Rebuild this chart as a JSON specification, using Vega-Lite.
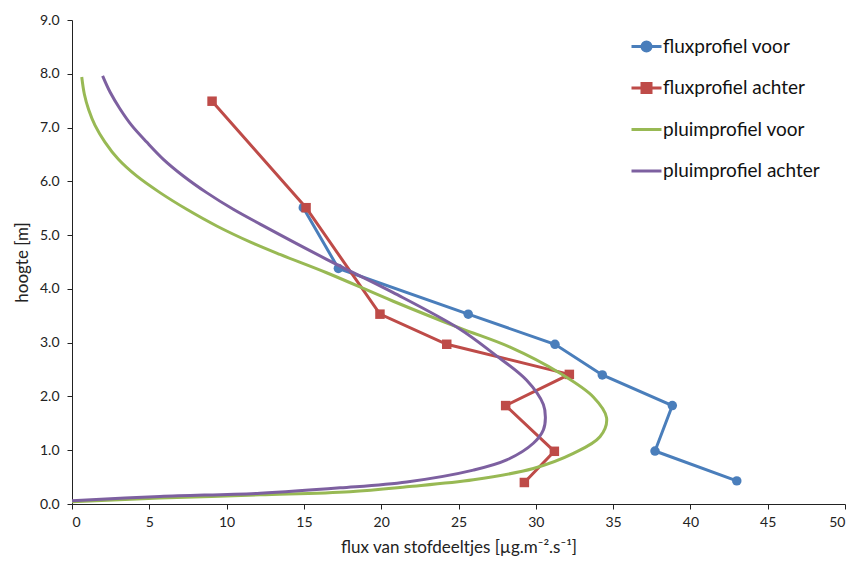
{
  "$schema": "https://vega.github.io/schema/vega-lite/v6.json",
  "width": 773,
  "height": 484,
  "autosize": {"type": "none"},
  "padding": {"left": 72, "top": 20, "right": 10, "bottom": 58},
  "background": "white",
  "config": {
    "view": {"stroke": null},
    "font": "Lato",
    "axis": {
      "grid": false,
      "domainColor": "#222",
      "tickColor": "#222",
      "tickSize": 5,
      "labelFont": "Lato",
      "labelFontSize": 14,
      "labelColor": "#222",
      "titleFont": "Lato",
      "titleFontSize": 17,
      "titleFontWeight": "normal",
      "titleColor": "#222"
    }
  },
  "data": {
    "values": [
      {"series": "fluxprofiel voor", "flux": 14.96, "height": 5.51},
      {"series": "fluxprofiel voor", "flux": 17.23, "height": 4.38},
      {"series": "fluxprofiel voor", "flux": 25.63, "height": 3.53},
      {"series": "fluxprofiel voor", "flux": 31.24, "height": 2.97},
      {"series": "fluxprofiel voor", "flux": 34.3, "height": 2.4},
      {"series": "fluxprofiel voor", "flux": 38.83, "height": 1.83},
      {"series": "fluxprofiel voor", "flux": 37.71, "height": 0.985},
      {"series": "fluxprofiel voor", "flux": 43.0, "height": 0.43},

      {"series": "fluxprofiel achter", "flux": 9.06, "height": 7.49},
      {"series": "fluxprofiel achter", "flux": 15.14, "height": 5.51},
      {"series": "fluxprofiel achter", "flux": 19.92, "height": 3.53},
      {"series": "fluxprofiel achter", "flux": 24.24, "height": 2.97},
      {"series": "fluxprofiel achter", "flux": 32.17, "height": 2.41},
      {"series": "fluxprofiel achter", "flux": 28.05, "height": 1.83},
      {"series": "fluxprofiel achter", "flux": 31.2, "height": 0.98},
      {"series": "fluxprofiel achter", "flux": 29.26, "height": 0.4},

      {"series": "pluimprofiel voor", "flux": 0.63, "height": 7.94},
      {"series": "pluimprofiel voor", "flux": 0.8, "height": 7.62},
      {"series": "pluimprofiel voor", "flux": 1.08, "height": 7.33},
      {"series": "pluimprofiel voor", "flux": 1.49, "height": 7.04},
      {"series": "pluimprofiel voor", "flux": 2.13, "height": 6.73},
      {"series": "pluimprofiel voor", "flux": 3.0, "height": 6.41},
      {"series": "pluimprofiel voor", "flux": 4.18, "height": 6.1},
      {"series": "pluimprofiel voor", "flux": 5.69, "height": 5.79},
      {"series": "pluimprofiel voor", "flux": 7.42, "height": 5.48},
      {"series": "pluimprofiel voor", "flux": 9.36, "height": 5.17},
      {"series": "pluimprofiel voor", "flux": 11.62, "height": 4.86},
      {"series": "pluimprofiel voor", "flux": 13.45, "height": 4.64},
      {"series": "pluimprofiel voor", "flux": 16.47, "height": 4.3},
      {"series": "pluimprofiel voor", "flux": 20.78, "height": 3.77},
      {"series": "pluimprofiel voor", "flux": 25.1, "height": 3.27},
      {"series": "pluimprofiel voor", "flux": 28.3, "height": 2.92},
      {"series": "pluimprofiel voor", "flux": 31.57, "height": 2.43},
      {"series": "pluimprofiel voor", "flux": 33.72, "height": 1.99},
      {"series": "pluimprofiel voor", "flux": 34.58, "height": 1.6},
      {"series": "pluimprofiel voor", "flux": 34.15, "height": 1.25},
      {"series": "pluimprofiel voor", "flux": 32.43, "height": 0.94},
      {"series": "pluimprofiel voor", "flux": 29.84, "height": 0.66},
      {"series": "pluimprofiel voor", "flux": 25.96, "height": 0.45},
      {"series": "pluimprofiel voor", "flux": 21.65, "height": 0.32},
      {"series": "pluimprofiel voor", "flux": 17.98, "height": 0.23},
      {"series": "pluimprofiel voor", "flux": 12.16, "height": 0.17},
      {"series": "pluimprofiel voor", "flux": 5.69, "height": 0.11},
      {"series": "pluimprofiel voor", "flux": 0.0, "height": 0.04},

      {"series": "pluimprofiel achter", "flux": 1.98, "height": 7.96},
      {"series": "pluimprofiel achter", "flux": 2.46, "height": 7.66},
      {"series": "pluimprofiel achter", "flux": 3.1, "height": 7.35},
      {"series": "pluimprofiel achter", "flux": 3.86, "height": 7.04},
      {"series": "pluimprofiel achter", "flux": 4.83, "height": 6.73},
      {"series": "pluimprofiel achter", "flux": 5.91, "height": 6.41},
      {"series": "pluimprofiel achter", "flux": 7.2, "height": 6.1},
      {"series": "pluimprofiel achter", "flux": 8.71, "height": 5.79},
      {"series": "pluimprofiel achter", "flux": 10.43, "height": 5.48},
      {"series": "pluimprofiel achter", "flux": 12.2, "height": 5.2},
      {"series": "pluimprofiel achter", "flux": 16.47, "height": 4.55},
      {"series": "pluimprofiel achter", "flux": 20.78, "height": 3.93},
      {"series": "pluimprofiel achter", "flux": 25.1, "height": 3.25},
      {"series": "pluimprofiel achter", "flux": 27.25, "height": 2.8},
      {"series": "pluimprofiel achter", "flux": 29.41, "height": 2.3},
      {"series": "pluimprofiel achter", "flux": 30.49, "height": 1.85},
      {"series": "pluimprofiel achter", "flux": 30.62, "height": 1.6},
      {"series": "pluimprofiel achter", "flux": 30.49, "height": 1.38},
      {"series": "pluimprofiel achter", "flux": 29.84, "height": 1.13},
      {"series": "pluimprofiel achter", "flux": 28.12, "height": 0.82},
      {"series": "pluimprofiel achter", "flux": 25.96, "height": 0.63},
      {"series": "pluimprofiel achter", "flux": 21.65, "height": 0.41},
      {"series": "pluimprofiel achter", "flux": 17.34, "height": 0.3},
      {"series": "pluimprofiel achter", "flux": 12.16, "height": 0.2},
      {"series": "pluimprofiel achter", "flux": 5.69, "height": 0.14},
      {"series": "pluimprofiel achter", "flux": 0.0, "height": 0.06}
    ]
  },
  "encoding": {
    "x": {
      "field": "flux",
      "type": "quantitative",
      "scale": {"domain": [0, 50], "nice": false},
      "axis": {
        "title": "flux van stofdeeltjes [µg.m⁻².s⁻¹]",
        "values": [0, 5, 10, 15, 20, 25, 30, 35, 40, 45, 50],
        "labelPadding": 6,
        "titlePadding": 10
      }
    },
    "y": {
      "field": "height",
      "type": "quantitative",
      "scale": {"domain": [0, 9], "nice": false},
      "axis": {
        "title": "hoogte [m]",
        "values": [0, 1, 2, 3, 4, 5, 6, 7, 8, 9],
        "format": ".1f",
        "labelPadding": 8,
        "titlePadding": 8
      }
    },
    "color": {
      "field": "series",
      "type": "nominal",
      "scale": {
        "domain": ["fluxprofiel voor", "fluxprofiel achter", "pluimprofiel voor", "pluimprofiel achter"],
        "range": ["#4A7EBB", "#BE4B48", "#98B954", "#7D60A0"]
      },
      "legend": {
        "orient": "none",
        "legendX": 558,
        "legendY": 10,
        "title": null,
        "padding": 0,
        "symbolSize": 900,
        "symbolStrokeWidth": 3,
        "labelFont": "Lato",
        "labelFontSize": 19,
        "labelColor": "#111",
        "labelOffset": 0,
        "rowPadding": 14.5,
        "encode": {
          "symbols": {
            "update": {
              "shape": {"signal": "datum.value === 'fluxprofiel voor' ? 'M-1,0H1M-0.3,0A0.3,0.3 0 1,1 0.3,0A0.3,0.3 0 1,1 -0.3,0Z' : datum.value === 'fluxprofiel achter' ? 'M-1,0H1M-0.3,-0.3H0.3V0.3H-0.3Z' : 'M-1,0H1'"},
              "fill": {"signal": "scale('color', datum.value)"},
              "stroke": {"signal": "scale('color', datum.value)"},
              "strokeWidth": {"value": 3},
              "opacity": {"value": 1}
            }
          }
        }
      }
    }
  },
  "layer": [
    {
      "transform": [{"filter": "indexof(datum.series, 'flux') === 0"}],
      "mark": {"type": "line", "strokeWidth": 3},
      "encoding": {"order": {"field": "height", "type": "quantitative"}}
    },
    {
      "transform": [{"filter": "indexof(datum.series, 'flux') === 0"}],
      "mark": {"type": "point", "filled": true, "opacity": 1},
      "encoding": {
        "shape": {
          "field": "series",
          "type": "nominal",
          "scale": {"domain": ["fluxprofiel voor", "fluxprofiel achter"], "range": ["circle", "square"]},
          "legend": null
        },
        "size": {"value": 90}
      }
    },
    {
      "transform": [{"filter": "indexof(datum.series, 'pluim') === 0"}],
      "mark": {"type": "line", "strokeWidth": 3, "interpolate": "catmull-rom"},
      "encoding": {"order": {"field": "height", "type": "quantitative"}}
    }
  ]
}
